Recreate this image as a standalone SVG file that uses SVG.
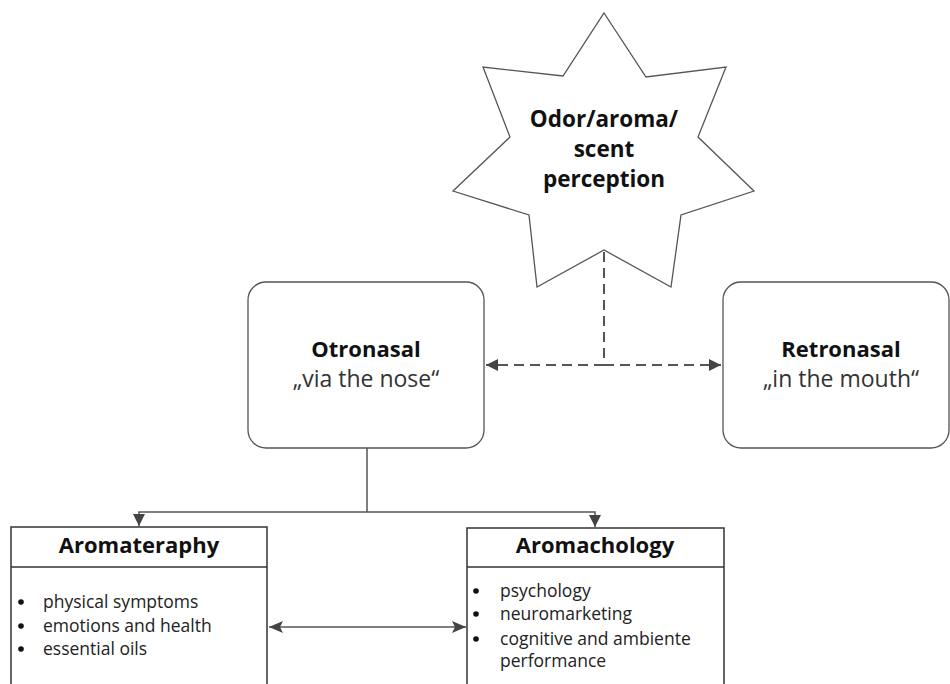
<svg xmlns="http://www.w3.org/2000/svg" width="950" height="684" viewBox="0 0 950 684">
<style>
.shape{fill:#fff;stroke:#555;stroke-width:1.3}
.hdr{fill:#fff;stroke:#333;stroke-width:1.5}
.b{font-family:"Open Sans","Liberation Sans",sans-serif;font-weight:bold;fill:#111;text-anchor:middle}
.r{font-family:"Open Sans","Liberation Sans",sans-serif;fill:#333;text-anchor:middle}
.li{font-family:"Open Sans","Liberation Sans",sans-serif;fill:#222;font-size:17.5px}
.conn{fill:none;stroke:#555;stroke-width:1.5}
.dash{fill:none;stroke:#555;stroke-width:2;stroke-dasharray:10 6}
</style>
<defs>
<marker id="ah" viewBox="0 0 12 12" refX="12" refY="6" markerWidth="12" markerHeight="12" markerUnits="userSpaceOnUse" orient="auto-start-reverse">
<path d="M0,0 L12,6 L0,12 Z" fill="#444"/>
</marker>
<marker id="ahs" viewBox="0 0 14 12" refX="14" refY="6" markerWidth="14" markerHeight="12" markerUnits="userSpaceOnUse" orient="auto-start-reverse">
<path d="M0,0 L14,6 L0,12 L3,6 Z" fill="#444"/>
</marker>
</defs>
<g id="connectors">
<path class="dash" d="M604,252 V365"/>
<path class="dash" d="M604,365 H486" marker-end="url(#ah)"/>
<path class="dash" d="M604,365 H721" marker-end="url(#ah)"/>
<path class="conn" d="M367,448 V512"/>
<path class="conn" d="M367,512 H139 V526" marker-end="url(#ah)"/>
<path class="conn" d="M367,512 H595 V527" marker-end="url(#ah)"/>
<path class="conn" d="M269,627 H466" marker-start="url(#ahs)" marker-end="url(#ahs)"/>
</g>
<g id="star">
<polygon class="shape" points="604,13 646,77 726,67 698,137 754,191 681,215 671,287 604,250 537,287 529,215 453,191 510,137 483,67 563,76"/>
<text class="b" font-size="22.5" x="604" y="127">Odor/aroma/</text>
<text class="b" font-size="22.5" x="604" y="157">scent</text>
<text class="b" font-size="22.5" x="604" y="187">perception</text>
</g>
<g id="otronasal">
<rect class="shape" x="248" y="282" width="236" height="166" rx="18"/>
<text class="b" font-size="22" x="366" y="357">Otronasal</text>
<text class="r" font-size="23" x="366" y="387">„via the nose“</text>
</g>
<g id="retronasal">
<rect class="shape" x="723" y="282" width="226" height="166" rx="18"/>
<text class="b" font-size="22" x="841" y="357">Retronasal</text>
<text class="r" font-size="23" x="841" y="387">„in the mouth“</text>
</g>
<g id="aromateraphy">
<rect class="hdr" x="11" y="527" width="256" height="170"/>
<line class="hdr" x1="11" y1="567" x2="267" y2="567"/>
<text class="b" font-size="22" x="139" y="553">Aromateraphy</text>
<g class="li">
<circle cx="21" cy="602" r="2.8" fill="#111"/><text x="43" y="608">physical symptoms</text>
<circle cx="21" cy="626" r="2.8" fill="#111"/><text x="43" y="632">emotions and health</text>
<circle cx="21" cy="649" r="2.8" fill="#111"/><text x="43" y="655">essential oils</text>
</g>
</g>
<g id="aromachology">
<rect class="hdr" x="467" y="528" width="257" height="170"/>
<line class="hdr" x1="467" y1="567" x2="724" y2="567"/>
<text class="b" font-size="22" x="595" y="553">Aromachology</text>
<g class="li">
<circle cx="476" cy="591" r="2.8" fill="#111"/><text x="500" y="597">psychology</text>
<circle cx="476" cy="614" r="2.8" fill="#111"/><text x="500" y="620">neuromarketing</text>
<circle cx="476" cy="639" r="2.8" fill="#111"/><text x="500" y="645">cognitive and ambiente</text>
<text x="500" y="667">performance</text>
</g>
</g>
</svg>
